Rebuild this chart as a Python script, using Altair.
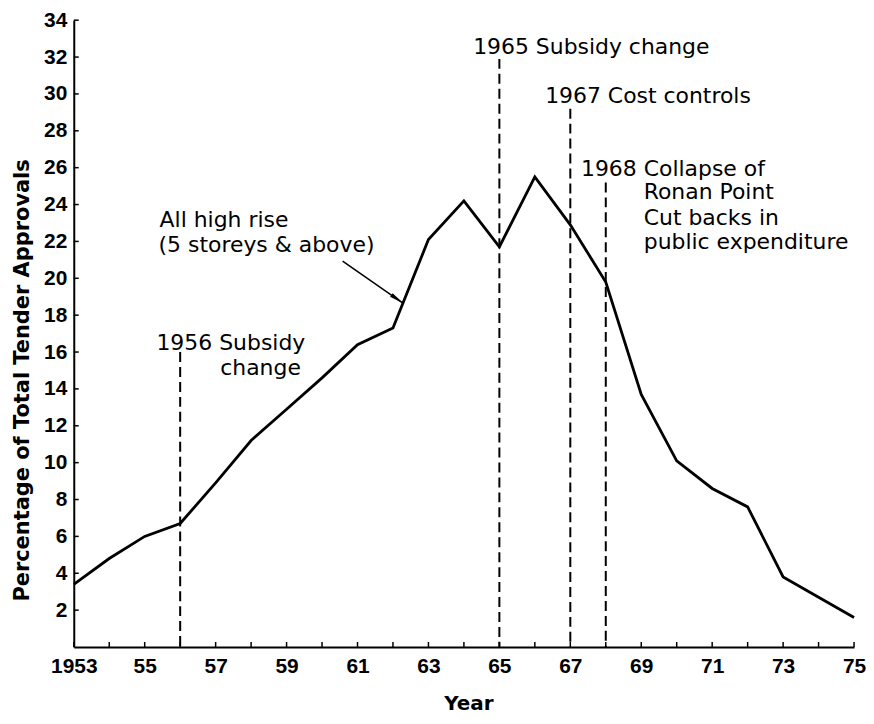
import altair as alt
import pandas as pd

# ---- data ----
years = list(range(1953, 1976))
pct = [3.4, 4.8, 6.0, 6.7, 8.9, 11.2, 12.9, 14.6, 16.4, 17.3, 22.1, 24.2,
       21.7, 25.5, 22.9, 19.8, 13.7, 10.1, 8.6, 7.6, 3.8, 2.7, 1.6]

event_years = [1956, 1965, 1967, 1968]
event_tops = [16.0, 31.9, 29.2, 25.2]

ann_text = ["All high rise", "(5 storeys & above)", "1956", "Subsidy", "change",
            "1965 Subsidy change", "1967 Cost controls", "1968", "Collapse of",
            "Ronan Point", "Cut backs in", "public expenditure"]
ann_x = [1955.42, 1955.39, 1955.33, 1957.10, 1957.13,
         1964.26, 1966.29, 1967.30, 1969.07, 1969.07, 1969.07, 1969.07]
ann_y = [22.77, 21.41, 16.09, 16.09, 14.75,
         32.17, 29.52, 25.54, 25.54, 24.28, 22.88, 21.57]

arrow_from_x = [1960.58]
arrow_from_y = [20.93]
arrow_to_x = [1962.30]
arrow_to_y = [18.63]

y_ticks = list(range(2, 35, 2))
x_label_years = list(range(1953, 1976, 2))

# ---- chart ----
W, H = 783, 629
xs = alt.Scale(domain=[1953, 1975], nice=False, zero=False)
ys = alt.Scale(domain=[0, 34], nice=False, zero=True)

x_axis = alt.Axis(
    values=x_label_years, format="d",
    labelExpr="datum.value == 1953 ? '1953' : substring(toString(datum.value), 2)",
    ticks=False, tickSize=0, grid=False, labelFlush=False, labelOverlap=False,
    domainColor="black", domainWidth=2,
    labelFont="Liberation Sans", labelFontWeight="bold", labelFontSize=21,
    labelColor="black", labelPadding=9, labelBaseline="top",
    title="Year", titleFont="DejaVu Sans", titleFontSize=20, titleFontWeight="bold",
    titleColor="black", titleX=396, titleY=63, titleBaseline="alphabetic",
    titleAlign="center",
)
y_axis = alt.Axis(
    values=y_ticks, format="d",
    ticks=False, tickSize=0, grid=False, labelFlush=False, labelOverlap=False,
    domainColor="black", domainWidth=2,
    labelFont="Liberation Sans", labelFontWeight="bold", labelFontSize=21,
    labelColor="black", labelPadding=7,
    title="Percentage of Total Tender Approvals", titleFont="DejaVu Sans",
    titleFontSize=21, titleFontWeight="bold", titleColor="black",
    titleAngle=270, titleX=-45, titleY=361, titleAlign="center",
    titleBaseline="alphabetic",
)


def X(field):
    return alt.X(field, scale=xs, axis=x_axis)


def Y(field):
    return alt.Y(field, scale=ys, axis=y_axis)


line_df = pd.DataFrame({"year": years, "pct": pct})
line = alt.Chart(line_df).mark_line(
    color="black", strokeWidth=2.8, strokeJoin="miter"
).encode(x=X("year:Q"), y=Y("pct:Q"))

xtick = alt.Chart(pd.DataFrame({"year": years})).mark_rule(
    color="black", strokeWidth=1.5
).encode(x=X("year:Q"), y=alt.value(H), y2=alt.value(H - 5))

ytick = alt.Chart(pd.DataFrame({"pct": y_ticks})).mark_rule(
    color="black", strokeWidth=1.5
).encode(y=Y("pct:Q"), x=alt.value(0), x2=alt.value(5))

ev_df = pd.DataFrame({"year": event_years, "pct": event_tops,
                      "base": [0] * len(event_years)})
events = alt.Chart(ev_df).mark_rule(
    color="black", strokeWidth=2, strokeDash=[10, 5]
).encode(x=X("year:Q"), y=Y("pct:Q"), y2="base:Q")

ann_df = pd.DataFrame({"t": ann_text, "year": ann_x, "pct": ann_y})
ann = alt.Chart(ann_df).mark_text(
    align="left", baseline="alphabetic", font="DejaVu Sans", fontSize=22,
    color="black"
).encode(x=X("year:Q"), y=Y("pct:Q"), text="t:N")

arr_df = pd.DataFrame({"year": arrow_from_x, "pct": arrow_from_y,
                       "x2": arrow_to_x, "y2": arrow_to_y})
shaft = alt.Chart(arr_df).mark_rule(color="black", strokeWidth=1.5).encode(
    x=X("year:Q"), y=Y("pct:Q"), x2="x2:Q", y2="y2:Q",
)
head_df = pd.DataFrame({"year": arrow_to_x, "pct": arrow_to_y})
head = alt.Chart(head_df).mark_point(
    shape="M0,0L-0.3,2L0.3,2Z", filled=True, color="black", size=225,
    angle=125, opacity=1, strokeWidth=0
).encode(x=X("year:Q"), y=Y("pct:Q"))

chart = alt.layer(line, xtick, ytick, events, ann, shaft, head).properties(
    width=W, height=H,
    autosize=alt.AutoSizeParams(type="none"),
    padding={"left": 66, "top": 11, "right": 12, "bottom": 68},
    background="white",
).configure_view(stroke=None)

chart.save("out.html", embed_options={"renderer": "svg", "actions": False})
